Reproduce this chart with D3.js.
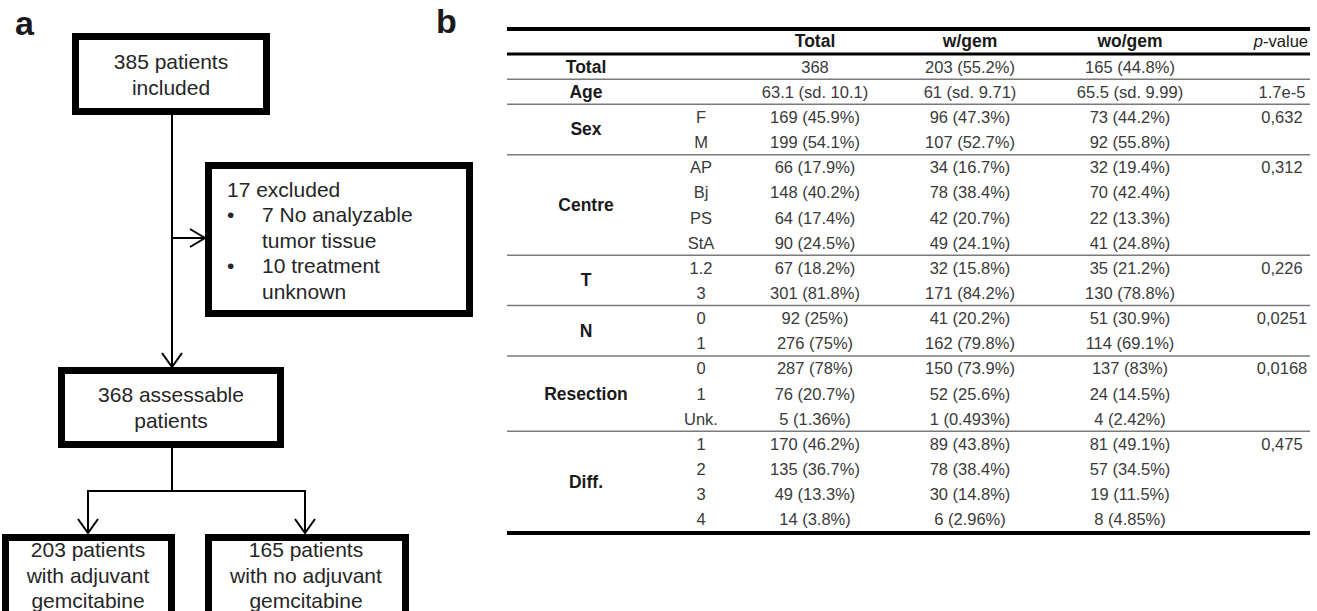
<!DOCTYPE html>
<html>
<head>
<meta charset="utf-8">
<script src="https://cdn.jsdelivr.net/npm/d3@7/dist/d3.min.js"></script>
<style>
  html, body { margin: 0; padding: 0; background: #fff; }
  svg { display: block; font-family: "Liberation Sans", Arial, sans-serif; }
</style>
</head>
<body>
<svg id="chart" width="1317" height="611"></svg>
<script>
// ---------- DATA ----------
// Flowchart (panel a)
const boxIncluded = ["385 patients", "included"];
const boxExcludedTitle = "17 excluded";
const boxExcludedItems = [["7 No analyzable", "tumor tissue"], ["10 treatment", "unknown"]];
const boxAssessable = ["368 assessable", "patients"];
const boxWithGem = ["203 patients", "with adjuvant", "gemcitabine"];
const boxWithoutGem = ["165 patients", "with no adjuvant", "gemcitabine"];

// Table (panel b)
const columnHeaders = ["Total", "w/gem", "wo/gem", "p-value"];
const groupLabels = ["Total", "Age", "Sex", "Centre", "T", "N", "Resection", "Diff."];
const subLabels = [
  [""], [""], ["F", "M"], ["AP", "Bj", "PS", "StA"], ["1.2", "3"], ["0", "1"], ["0", "1", "Unk."], ["1", "2", "3", "4"]
];
const totalValues = [
  "368", "63.1 (sd. 10.1)", "169 (45.9%)", "199 (54.1%)",
  "66 (17.9%)", "148 (40.2%)", "64 (17.4%)", "90 (24.5%)",
  "67 (18.2%)", "301 (81.8%)", "92 (25%)", "276 (75%)",
  "287 (78%)", "76 (20.7%)", "5 (1.36%)",
  "170 (46.2%)", "135 (36.7%)", "49 (13.3%)", "14 (3.8%)"
];
const withGemValues = [
  "203 (55.2%)", "61 (sd. 9.71)", "96 (47.3%)", "107 (52.7%)",
  "34 (16.7%)", "78 (38.4%)", "42 (20.7%)", "49 (24.1%)",
  "32 (15.8%)", "171 (84.2%)", "41 (20.2%)", "162 (79.8%)",
  "150 (73.9%)", "52 (25.6%)", "1 (0.493%)",
  "89 (43.8%)", "78 (38.4%)", "30 (14.8%)", "6 (2.96%)"
];
const withoutGemValues = [
  "165 (44.8%)", "65.5 (sd. 9.99)", "73 (44.2%)", "92 (55.8%)",
  "32 (19.4%)", "70 (42.4%)", "22 (13.3%)", "41 (24.8%)",
  "35 (21.2%)", "130 (78.8%)", "51 (30.9%)", "114 (69.1%)",
  "137 (83%)", "24 (14.5%)", "4 (2.42%)",
  "81 (49.1%)", "57 (34.5%)", "19 (11.5%)", "8 (4.85%)"
];
const groupPValues = ["", "1.7e-5", "0,632", "0,312", "0,226", "0,0251", "0,0168", "0,475"];

// ---------- DRAWING ----------
const svg = d3.select("#chart");
const ink = "#1a1a1a";

// Panel letters
svg.append("text").attr("x", 15).attr("y", 35).attr("font-size", 34).attr("font-weight", "bold").attr("fill", ink).text("a");
svg.append("text").attr("x", 436).attr("y", 33).attr("font-size", 34).attr("font-weight", "bold").attr("fill", ink).text("b");

// ----- Flowchart -----
const fc = svg.append("g");
const fcFont = 21, fcLine = 25.5, border = 7;

function box(x0, y0, x1, y1) {
  fc.append("rect")
    .attr("x", x0 + border / 2).attr("y", y0 + border / 2)
    .attr("width", x1 - x0 - border).attr("height", y1 - y0 - border)
    .attr("fill", "#fff").attr("stroke", "#000").attr("stroke-width", border);
}
function centeredLines(lines, cx, firstBaseline) {
  lines.forEach((t, i) => {
    fc.append("text").attr("x", cx).attr("y", firstBaseline + i * fcLine)
      .attr("text-anchor", "middle").attr("font-size", fcFont).attr("fill", "#262626").text(t);
  });
}
function line(pts) {
  fc.append("path").attr("d", d3.line()(pts)).attr("fill", "none")
    .attr("stroke", "#000").attr("stroke-width", 2);
}
function arrowDown(x, tipY) {
  line([[x - 10, tipY - 14], [x, tipY], [x + 10, tipY - 14]]);
}
function arrowRight(tipX, y) {
  line([[tipX - 15, y - 9], [tipX, y], [tipX - 15, y + 9]]);
}

// connectors
line([[172, 115], [172, 367]]);
line([[172, 238], [205, 238]]);
arrowRight(205, 238);
arrowDown(172, 367);
line([[172, 448], [172, 491]]);
line([[88, 533], [88, 491], [305, 491], [305, 533]]);
arrowDown(88, 533);
arrowDown(305, 533);

// boxes
box(72, 33, 270, 115);
centeredLines(boxIncluded, 171, 69);

box(205, 162, 473, 317);
fc.append("text").attr("x", 227).attr("y", 197).attr("font-size", fcFont).attr("fill", "#262626").text(boxExcludedTitle);
boxExcludedItems.forEach((item, k) => {
  const base = 222 + k * 2 * fcLine;
  fc.append("text").attr("x", 227).attr("y", base).attr("font-size", fcFont).attr("fill", "#262626").text("•");
  item.forEach((t, i) => {
    fc.append("text").attr("x", 262).attr("y", base + i * fcLine).attr("font-size", fcFont).attr("fill", "#262626").text(t);
  });
});

box(58, 367, 284, 448);
centeredLines(boxAssessable, 171, 402);

box(2, 534, 175, 640);
centeredLines(boxWithGem, 88, 557);
box(205, 534, 409, 640);
centeredLines(boxWithoutGem, 306, 557);

// ----- Table -----
const tb = svg.append("g");
const tableLeft = 507, tableRight = 1310;
const rows = [];
groupLabels.forEach((g, gi) => {
  subLabels[gi].forEach((s, si) => rows.push({ group: gi, sub: s, first: si === 0 }));
});
const y = d3.scaleBand().domain(d3.range(rows.length)).range([54, 532]);
const x = d3.scaleOrdinal()
  .domain(["group", "sub", "Total", "w/gem", "wo/gem", "p-value"])
  .range([586, 701, 815, 970, 1130, 1282]);
const tFont = 16.5, lFont = 17.5;

// rules
tb.append("line").attr("x1", tableLeft).attr("x2", tableRight).attr("y1", 29).attr("y2", 29).attr("stroke", "#000").attr("stroke-width", 4);
tb.append("line").attr("x1", tableLeft).attr("x2", tableRight).attr("y1", 54).attr("y2", 54).attr("stroke", "#000").attr("stroke-width", 3);
tb.append("line").attr("x1", tableLeft).attr("x2", tableRight).attr("y1", 533).attr("y2", 533).attr("stroke", "#000").attr("stroke-width", 4);
rows.forEach((r, i) => {
  if (r.first && i > 0) {
    tb.append("line").attr("x1", tableLeft).attr("x2", tableRight)
      .attr("y1", y(i)).attr("y2", y(i)).attr("stroke", "#7a7a7a").attr("stroke-width", 1.5);
  }
});

// header
columnHeaders.forEach(h => {
  const t = tb.append("text").attr("y", 47).attr("font-size", lFont).attr("fill", ink);
  if (h === "p-value") {
    t.attr("font-size", tFont).attr("x", tableRight - 2).attr("text-anchor", "end");
    t.append("tspan").attr("font-style", "italic").text("p");
    t.append("tspan").text("-value");
  } else {
    t.attr("x", x(h)).attr("text-anchor", "middle").attr("font-weight", "bold").text(h);
  }
});

// group labels (bold, centred on their rows)
let start = 0;
groupLabels.forEach((g, gi) => {
  const n = subLabels[gi].length;
  const cy = (y(start) + y(start + n - 1) + y.bandwidth()) / 2;
  tb.append("text").attr("x", x("group")).attr("y", cy + 6).attr("text-anchor", "middle")
    .attr("font-size", lFont).attr("font-weight", "bold").attr("fill", ink).text(g);
  if (groupPValues[gi]) {
    tb.append("text").attr("x", x("p-value")).attr("y", y(start) + y.bandwidth() / 2 + 6)
      .attr("text-anchor", "middle").attr("font-size", tFont).attr("fill", "#3a3a3a").text(groupPValues[gi]);
  }
  start += n;
});

// row cells
const cells = tb.selectAll("g.row").data(rows).join("g").attr("class", "row")
  .attr("transform", (d, i) => `translate(0,${y(i) + y.bandwidth() / 2 + 6})`);
cells.append("text").attr("x", x("sub")).attr("text-anchor", "middle").attr("font-size", tFont).attr("fill", "#3a3a3a").text(d => d.sub);
cells.append("text").attr("x", x("Total")).attr("text-anchor", "middle").attr("font-size", tFont).attr("fill", "#3a3a3a").text((d, i) => totalValues[i]);
cells.append("text").attr("x", x("w/gem")).attr("text-anchor", "middle").attr("font-size", tFont).attr("fill", "#3a3a3a").text((d, i) => withGemValues[i]);
cells.append("text").attr("x", x("wo/gem")).attr("text-anchor", "middle").attr("font-size", tFont).attr("fill", "#3a3a3a").text((d, i) => withoutGemValues[i]);
</script>
</body>
</html>
